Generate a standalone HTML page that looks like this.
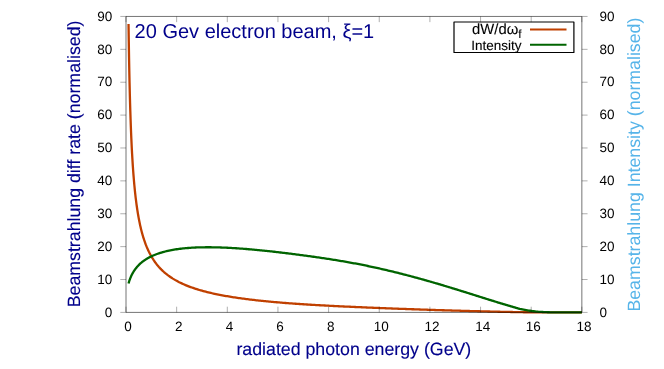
<!DOCTYPE html>
<html lang="en">
<head>
<meta charset="utf-8">
<title>Beamstrahlung spectrum, 20 GeV electron beam</title>
<style>
html,body{margin:0;padding:0;background:#fff;}
body{width:664px;height:369px;overflow:hidden;font-family:"Liberation Sans",sans-serif;}
svg{display:block;will-change:transform;}
text{font-family:"Liberation Sans",sans-serif;text-rendering:geometricPrecision;}
</style>
</head>
<body>
<svg width="664" height="369" viewBox="0 0 664 369">
<rect width="664" height="369" fill="#ffffff"/>
<g fill="none" stroke-width="2.3" stroke-linejoin="round" stroke-linecap="butt">
<path stroke="#c04000" d="M128.53,23.92 L128.79,41.89 L129.04,57.34 L129.29,70.80 L129.55,82.65 L129.80,93.18 L130.05,102.61 L130.31,111.12 L130.56,118.83 L130.81,125.87 L131.06,132.33 L131.32,138.27 L131.57,143.76 L131.82,148.86 L132.08,153.60 L132.33,158.03 L132.58,162.18 L132.84,166.07 L133.09,169.73 L133.34,173.18 L133.60,176.44 L133.85,179.53 L134.10,182.46 L134.36,185.24 L134.61,187.89 L134.86,190.41 L135.12,192.82 L135.37,195.12 L135.62,197.31 L135.88,199.42 L136.13,201.44 L136.38,203.38 L136.64,205.24 L136.89,207.03 L137.14,208.76 L137.40,210.42 L137.65,212.02 L137.90,213.57 L138.16,215.06 L138.41,216.50 L138.66,217.90 L138.92,219.25 L139.17,220.56 L139.42,221.82 L139.68,223.05 L139.93,224.24 L140.18,225.40 L140.44,226.53 L140.69,227.62 L140.94,228.68 L141.19,229.71 L141.45,230.72 L141.70,231.70 L141.95,232.65 L142.21,233.58 L142.46,234.48 L142.71,235.37 L142.97,236.23 L143.22,237.07 L143.47,237.89 L143.73,238.69 L143.98,239.47 L144.23,240.24 L144.49,240.99 L144.74,241.72 L144.99,242.43 L145.25,243.13 L145.50,243.82 L145.75,244.49 L146.01,245.14 L146.26,245.79 L146.51,246.42 L146.77,247.03 L147.02,247.64 L147.27,248.23 L147.53,248.81 L147.78,249.38 L148.03,249.94 L148.29,250.49 L148.54,251.03 L148.79,251.56 L149.05,252.08 L149.30,252.59 L149.55,253.09 L149.81,253.58 L150.06,254.07 L150.31,254.54 L150.57,255.01 L150.82,255.47 L151.07,255.92 L151.32,256.36 L152.59,258.48 L153.86,260.43 L155.12,262.24 L156.39,263.93 L157.66,265.50 L158.92,266.97 L160.19,268.35 L161.46,269.64 L162.72,270.86 L163.99,272.02 L165.25,273.11 L166.52,274.14 L167.79,275.13 L169.05,276.06 L170.32,276.95 L171.59,277.80 L172.85,278.61 L174.12,279.38 L175.38,280.12 L176.65,280.83 L177.92,281.51 L179.18,282.17 L180.45,282.79 L181.72,283.40 L182.98,283.98 L184.25,284.54 L185.51,285.08 L186.78,285.60 L188.05,286.11 L189.31,286.60 L190.58,287.07 L191.85,287.52 L193.11,287.96 L194.38,288.39 L195.64,288.81 L196.91,289.21 L198.18,289.60 L199.44,289.98 L200.71,290.35 L201.98,290.71 L203.24,291.05 L204.51,291.39 L205.77,291.72 L207.04,292.04 L208.31,292.36 L209.57,292.66 L210.84,292.96 L212.11,293.25 L213.37,293.53 L214.64,293.81 L215.90,294.08 L217.17,294.34 L218.44,294.60 L219.70,294.85 L220.97,295.09 L222.24,295.33 L223.50,295.57 L224.77,295.80 L226.03,296.02 L227.30,296.24 L228.57,296.46 L229.83,296.67 L231.10,296.87 L232.37,297.07 L233.63,297.27 L234.90,297.47 L236.16,297.66 L237.43,297.84 L238.70,298.03 L239.96,298.21 L241.23,298.38 L242.50,298.56 L243.76,298.73 L245.03,298.89 L246.29,299.06 L247.56,299.22 L248.83,299.37 L250.09,299.53 L251.36,299.68 L252.63,299.83 L253.89,299.98 L255.16,300.12 L256.42,300.27 L257.69,300.41 L258.96,300.54 L260.22,300.68 L261.49,300.81 L262.76,300.94 L264.02,301.07 L265.29,301.20 L266.55,301.32 L267.82,301.45 L269.09,301.57 L270.35,301.69 L271.62,301.80 L272.89,301.92 L274.15,302.03 L275.42,302.15 L276.68,302.26 L277.95,302.37 L279.22,302.47 L280.48,302.58 L281.75,302.68 L283.02,302.79 L284.28,302.89 L285.55,302.99 L286.81,303.09 L288.08,303.18 L289.35,303.28 L290.61,303.37 L291.88,303.47 L293.15,303.56 L294.41,303.65 L295.68,303.74 L296.94,303.83 L298.21,303.91 L299.48,304.00 L300.74,304.08 L302.01,304.17 L303.28,304.25 L304.54,304.33 L305.81,304.41 L307.07,304.49 L308.34,304.57 L309.61,304.65 L310.87,304.73 L312.14,304.80 L313.41,304.88 L314.67,304.95 L315.94,305.03 L317.20,305.10 L318.47,305.17 L319.74,305.24 L321.00,305.31 L322.27,305.38 L323.54,305.45 L324.80,305.52 L326.07,305.59 L327.33,305.66 L328.60,305.72 L329.87,305.79 L331.13,305.85 L332.40,305.92 L333.67,305.98 L334.93,306.05 L336.20,306.11 L337.46,306.17 L338.73,306.23 L340.00,306.29 L341.26,306.36 L342.53,306.42 L343.80,306.48 L345.06,306.53 L346.33,306.59 L347.59,306.65 L348.86,306.71 L350.13,306.77 L351.39,306.83 L352.66,306.88 L353.93,306.94 L355.19,307.00 L356.46,307.05 L357.72,307.11 L358.99,307.16 L360.26,307.22 L361.52,307.27 L362.79,307.33 L364.06,307.38 L365.32,307.43 L366.59,307.49 L367.85,307.54 L369.12,307.59 L370.39,307.65 L371.65,307.70 L372.92,307.75 L374.19,307.80 L375.45,307.85 L376.72,307.90 L377.98,307.96 L379.25,308.01 L380.52,308.06 L381.78,308.11 L383.05,308.16 L384.32,308.21 L385.58,308.25 L386.85,308.30 L388.11,308.35 L389.38,308.40 L390.65,308.45 L391.91,308.50 L393.18,308.54 L394.45,308.59 L395.71,308.64 L396.98,308.69 L398.24,308.73 L399.51,308.78 L400.78,308.83 L402.04,308.87 L403.31,308.92 L404.58,308.96 L405.84,309.01 L407.11,309.05 L408.37,309.10 L409.64,309.14 L410.91,309.19 L412.17,309.23 L413.44,309.27 L414.71,309.32 L415.97,309.36 L417.24,309.41 L418.50,309.45 L419.77,309.49 L421.04,309.53 L422.30,309.58 L423.57,309.62 L424.84,309.66 L426.10,309.70 L427.37,309.74 L428.63,309.78 L429.90,309.83 L431.17,309.87 L432.43,309.91 L433.70,309.95 L434.97,309.99 L436.23,310.03 L437.50,310.07 L438.76,310.11 L440.03,310.15 L441.30,310.19 L442.56,310.23 L443.83,310.26 L445.10,310.30 L446.36,310.34 L447.63,310.38 L448.89,310.42 L450.16,310.46 L451.43,310.49 L452.69,310.53 L453.96,310.57 L455.23,310.61 L456.49,310.64 L457.76,310.68 L459.02,310.71 L460.29,310.75 L461.56,310.79 L462.82,310.82 L464.09,310.86 L465.36,310.89 L466.62,310.93 L467.89,310.96 L469.15,311.00 L470.42,311.03 L471.69,311.07 L472.95,311.10 L474.22,311.13 L475.49,311.17 L476.75,311.20 L478.02,311.23 L479.28,311.27 L480.55,311.30 L481.82,311.33 L483.08,311.36 L484.35,311.40 L485.62,311.43 L486.88,311.46 L488.15,311.49 L489.41,311.52 L490.68,311.55 L491.95,311.58 L493.21,311.61 L494.48,311.64 L495.75,311.67 L497.01,311.70 L498.28,311.73 L499.54,311.76 L500.81,311.79 L502.08,311.81 L503.34,311.84 L504.61,311.87 L505.88,311.89 L507.14,311.92 L508.41,311.95 L509.67,311.97 L510.94,312.00 L512.21,312.02 L513.47,312.05 L514.74,312.08 L516.01,312.10 L517.27,312.13 L518.54,312.15 L519.80,312.17 L521.07,312.19 L522.34,312.21 L523.60,312.23 L524.87,312.24 L526.14,312.26 L527.40,312.27 L528.67,312.28 L529.93,312.30 L531.20,312.31 L532.47,312.32 L533.73,312.33 L535.00,312.34 L536.27,312.35 L537.53,312.36 L538.80,312.36 L540.06,312.37 L541.33,312.37 L542.60,312.38 L543.86,312.38 L545.13,312.38 L546.40,312.39 L547.66,312.39 L548.93,312.39 L550.19,312.39 L551.46,312.39 L552.73,312.40 L553.99,312.40 L555.26,312.40 L556.53,312.40 L557.79,312.40 L559.06,312.40 L560.32,312.40 L561.59,312.40 L562.86,312.40 L564.12,312.40 L565.39,312.40 L566.66,312.40 L567.92,312.40 L569.19,312.40 L570.45,312.40 L571.72,312.40 L572.99,312.40 L574.25,312.40 L575.52,312.40 L576.79,312.40 L578.05,312.40 L579.32,312.40 L580.58,312.40 L581.85,312.40"/>
<path stroke="#006400" d="M128.53,283.55 L128.79,282.64 L129.04,281.79 L129.29,280.99 L129.55,280.24 L129.80,279.52 L130.05,278.83 L130.31,278.18 L130.56,277.56 L130.81,276.96 L131.06,276.39 L131.32,275.83 L131.57,275.30 L131.82,274.79 L132.08,274.29 L132.33,273.81 L132.58,273.34 L132.84,272.89 L133.09,272.45 L133.34,272.03 L133.60,271.61 L133.85,271.21 L134.10,270.82 L134.36,270.44 L134.61,270.07 L134.86,269.70 L135.12,269.35 L135.37,269.00 L135.62,268.67 L135.88,268.34 L136.13,268.02 L136.38,267.70 L136.64,267.39 L136.89,267.09 L137.14,266.80 L137.40,266.51 L137.65,266.23 L137.90,265.95 L138.16,265.68 L138.41,265.41 L138.66,265.15 L138.92,264.89 L139.17,264.64 L139.42,264.39 L139.68,264.15 L139.93,263.91 L140.18,263.68 L140.44,263.45 L140.69,263.23 L140.94,263.01 L141.19,262.79 L141.45,262.57 L141.70,262.36 L141.95,262.16 L142.21,261.95 L142.46,261.75 L142.71,261.56 L142.97,261.36 L143.22,261.17 L143.47,260.99 L143.73,260.80 L143.98,260.62 L144.23,260.44 L144.49,260.27 L144.74,260.09 L144.99,259.92 L145.25,259.76 L145.50,259.59 L145.75,259.43 L146.01,259.27 L146.26,259.11 L146.51,258.95 L146.77,258.80 L147.02,258.65 L147.27,258.50 L147.53,258.35 L147.78,258.21 L148.03,258.06 L148.29,257.92 L148.54,257.78 L148.79,257.64 L149.05,257.51 L149.30,257.37 L149.55,257.24 L149.81,257.11 L150.06,256.98 L150.31,256.86 L150.57,256.73 L150.82,256.61 L151.07,256.48 L151.32,256.36 L152.59,255.78 L153.86,255.23 L155.12,254.72 L156.39,254.23 L157.66,253.77 L158.92,253.34 L160.19,252.93 L161.46,252.54 L162.72,252.17 L163.99,251.83 L165.25,251.50 L166.52,251.19 L167.79,250.90 L169.05,250.62 L170.32,250.36 L171.59,250.12 L172.85,249.88 L174.12,249.66 L175.38,249.46 L176.65,249.26 L177.92,249.08 L179.18,248.91 L180.45,248.75 L181.72,248.60 L182.98,248.46 L184.25,248.33 L185.51,248.20 L186.78,248.09 L188.05,247.99 L189.31,247.89 L190.58,247.80 L191.85,247.72 L193.11,247.65 L194.38,247.58 L195.64,247.52 L196.91,247.47 L198.18,247.42 L199.44,247.38 L200.71,247.35 L201.98,247.32 L203.24,247.29 L204.51,247.28 L205.77,247.27 L207.04,247.26 L208.31,247.26 L209.57,247.26 L210.84,247.27 L212.11,247.28 L213.37,247.30 L214.64,247.32 L215.90,247.35 L217.17,247.38 L218.44,247.41 L219.70,247.45 L220.97,247.50 L222.24,247.54 L223.50,247.59 L224.77,247.64 L226.03,247.70 L227.30,247.76 L228.57,247.83 L229.83,247.89 L231.10,247.96 L232.37,248.03 L233.63,248.11 L234.90,248.19 L236.16,248.27 L237.43,248.36 L238.70,248.44 L239.96,248.53 L241.23,248.62 L242.50,248.72 L243.76,248.82 L245.03,248.92 L246.29,249.02 L247.56,249.12 L248.83,249.23 L250.09,249.34 L251.36,249.45 L252.63,249.56 L253.89,249.68 L255.16,249.79 L256.42,249.91 L257.69,250.03 L258.96,250.15 L260.22,250.28 L261.49,250.41 L262.76,250.53 L264.02,250.66 L265.29,250.79 L266.55,250.93 L267.82,251.06 L269.09,251.20 L270.35,251.34 L271.62,251.47 L272.89,251.62 L274.15,251.76 L275.42,251.90 L276.68,252.05 L277.95,252.19 L279.22,252.34 L280.48,252.49 L281.75,252.64 L283.02,252.79 L284.28,252.94 L285.55,253.09 L286.81,253.25 L288.08,253.41 L289.35,253.56 L290.61,253.72 L291.88,253.88 L293.15,254.04 L294.41,254.20 L295.68,254.36 L296.94,254.53 L298.21,254.69 L299.48,254.86 L300.74,255.02 L302.01,255.19 L303.28,255.36 L304.54,255.53 L305.81,255.70 L307.07,255.87 L308.34,256.04 L309.61,256.22 L310.87,256.39 L312.14,256.57 L313.41,256.75 L314.67,256.92 L315.94,257.10 L317.20,257.29 L318.47,257.47 L319.74,257.65 L321.00,257.84 L322.27,258.02 L323.54,258.21 L324.80,258.40 L326.07,258.59 L327.33,258.79 L328.60,258.98 L329.87,259.18 L331.13,259.37 L332.40,259.57 L333.67,259.77 L334.93,259.98 L336.20,260.18 L337.46,260.39 L338.73,260.60 L340.00,260.81 L341.26,261.02 L342.53,261.23 L343.80,261.45 L345.06,261.67 L346.33,261.89 L347.59,262.11 L348.86,262.34 L350.13,262.56 L351.39,262.79 L352.66,263.02 L353.93,263.26 L355.19,263.49 L356.46,263.73 L357.72,263.97 L358.99,264.22 L360.26,264.46 L361.52,264.71 L362.79,264.97 L364.06,265.22 L365.32,265.48 L366.59,265.74 L367.85,266.00 L369.12,266.26 L370.39,266.53 L371.65,266.80 L372.92,267.07 L374.19,267.34 L375.45,267.62 L376.72,267.90 L377.98,268.18 L379.25,268.46 L380.52,268.75 L381.78,269.04 L383.05,269.33 L384.32,269.62 L385.58,269.91 L386.85,270.21 L388.11,270.51 L389.38,270.81 L390.65,271.11 L391.91,271.42 L393.18,271.73 L394.45,272.04 L395.71,272.35 L396.98,272.66 L398.24,272.98 L399.51,273.30 L400.78,273.62 L402.04,273.94 L403.31,274.27 L404.58,274.59 L405.84,274.92 L407.11,275.25 L408.37,275.58 L409.64,275.92 L410.91,276.25 L412.17,276.59 L413.44,276.93 L414.71,277.27 L415.97,277.62 L417.24,277.96 L418.50,278.31 L419.77,278.66 L421.04,279.01 L422.30,279.36 L423.57,279.72 L424.84,280.07 L426.10,280.43 L427.37,280.79 L428.63,281.15 L429.90,281.51 L431.17,281.88 L432.43,282.24 L433.70,282.61 L434.97,282.98 L436.23,283.35 L437.50,283.72 L438.76,284.09 L440.03,284.47 L441.30,284.84 L442.56,285.22 L443.83,285.60 L445.10,285.98 L446.36,286.36 L447.63,286.74 L448.89,287.13 L450.16,287.51 L451.43,287.90 L452.69,288.29 L453.96,288.68 L455.23,289.07 L456.49,289.46 L457.76,289.85 L459.02,290.24 L460.29,290.63 L461.56,291.03 L462.82,291.42 L464.09,291.82 L465.36,292.21 L466.62,292.61 L467.89,293.01 L469.15,293.40 L470.42,293.80 L471.69,294.20 L472.95,294.60 L474.22,295.00 L475.49,295.40 L476.75,295.80 L478.02,296.20 L479.28,296.60 L480.55,297.00 L481.82,297.40 L483.08,297.80 L484.35,298.19 L485.62,298.59 L486.88,298.99 L488.15,299.39 L489.41,299.78 L490.68,300.18 L491.95,300.57 L493.21,300.97 L494.48,301.36 L495.75,301.75 L497.01,302.14 L498.28,302.53 L499.54,302.92 L500.81,303.30 L502.08,303.68 L503.34,304.06 L504.61,304.43 L505.88,304.81 L507.14,305.18 L508.41,305.55 L509.67,305.92 L510.94,306.29 L512.21,306.68 L513.47,307.07 L514.74,307.46 L516.01,307.84 L517.27,308.20 L518.54,308.54 L519.80,308.86 L521.07,309.14 L522.34,309.41 L523.60,309.67 L524.87,309.92 L526.14,310.15 L527.40,310.37 L528.67,310.57 L529.93,310.76 L531.20,310.93 L532.47,311.10 L533.73,311.26 L535.00,311.41 L536.27,311.55 L537.53,311.68 L538.80,311.79 L540.06,311.87 L541.33,311.95 L542.60,312.02 L543.86,312.08 L545.13,312.14 L546.40,312.19 L547.66,312.23 L548.93,312.26 L550.19,312.29 L551.46,312.31 L552.73,312.34 L553.99,312.36 L555.26,312.37 L556.53,312.39 L557.79,312.40 L559.06,312.40 L560.32,312.40 L561.59,312.40 L562.86,312.40 L564.12,312.40 L565.39,312.40 L566.66,312.40 L567.92,312.40 L569.19,312.40 L570.45,312.40 L571.72,312.40 L572.99,312.40 L574.25,312.40 L575.52,312.40 L576.79,312.40 L578.05,312.40 L579.32,312.40 L580.58,312.40 L581.85,312.40"/>
</g>
<g fill="none" stroke="#000"><g stroke-width="0.55"><path d="M126.00,16.45 H581.85 V312.40 H126.00 Z"/></g><path stroke-width="0.32" d="M126.00,312.40 h-5.70 M581.85,312.40 h5.70 M126.00,279.52 h-5.70 M581.85,279.52 h5.70 M126.00,246.63 h-5.70 M581.85,246.63 h5.70 M126.00,213.75 h-5.70 M581.85,213.75 h5.70 M126.00,180.87 h-5.70 M581.85,180.87 h5.70 M126.00,147.98 h-5.70 M581.85,147.98 h5.70 M126.00,115.10 h-5.70 M581.85,115.10 h5.70 M126.00,82.22 h-5.70 M581.85,82.22 h5.70 M126.00,49.33 h-5.70 M581.85,49.33 h5.70 M126.00,16.45 h-5.70 M581.85,16.45 h5.70 M126.00,312.40 v-5.70 M126.00,16.45 v5.70 M176.65,312.40 v-5.70 M176.65,16.45 v5.70 M227.30,312.40 v-5.70 M227.30,16.45 v5.70 M277.95,312.40 v-5.70 M277.95,16.45 v5.70 M328.60,312.40 v-5.70 M328.60,16.45 v5.70 M379.25,312.40 v-5.70 M379.25,16.45 v5.70 M429.90,312.40 v-5.70 M429.90,16.45 v5.70 M480.55,312.40 v-5.70 M480.55,16.45 v5.70 M531.20,312.40 v-5.70 M531.20,16.45 v5.70 M581.85,312.40 v-5.70 M581.85,16.45 v5.70"/></g>
<rect x="454" y="22" width="119.9" height="30.5" fill="none" stroke="#000" stroke-width="1.2" stroke-linejoin="round"/>
<g font-size="13.5px" fill="#000" stroke="#000" stroke-width="0.1">
<text y="34.1" x="472.1" font-size="14.8px">dW/dω</text>
<text y="37.6" x="518.2" font-size="11.8px">f</text>
<text y="49.6" x="471.2">Intensity</text>
</g>
<g fill="none" stroke-width="2">
<path stroke="#c04000" d="M530,29.4 H566.5"/>
<path stroke="#006400" d="M530,44.8 H566.5"/>
</g>
<g font-size="13.5px" fill="#000" text-anchor="end">
<text x="112.3" y="316.65">0</text>
<text x="112.3" y="283.77">10</text>
<text x="112.3" y="250.88">20</text>
<text x="112.3" y="218.00">30</text>
<text x="112.3" y="185.12">40</text>
<text x="112.3" y="152.23">50</text>
<text x="112.3" y="119.35">60</text>
<text x="112.3" y="86.47">70</text>
<text x="112.3" y="53.58">80</text>
<text x="112.3" y="20.70">90</text>
</g>
<g font-size="13.5px" fill="#000" text-anchor="start">
<text x="599.5" y="316.65">0</text>
<text x="599.5" y="283.77">10</text>
<text x="599.5" y="250.88">20</text>
<text x="599.5" y="218.00">30</text>
<text x="599.5" y="185.12">40</text>
<text x="599.5" y="152.23">50</text>
<text x="599.5" y="119.35">60</text>
<text x="599.5" y="86.47">70</text>
<text x="599.5" y="53.58">80</text>
<text x="599.5" y="20.70">90</text>
</g>
<g font-size="13.5px" fill="#000" text-anchor="middle">
<text x="128.1" y="330.75">0</text>
<text x="178.75" y="330.75">2</text>
<text x="229.4" y="330.75">4</text>
<text x="280.05" y="330.75">6</text>
<text x="330.7" y="330.75">8</text>
<text x="381.35" y="330.75">10</text>
<text x="432.0" y="330.75">12</text>
<text x="482.65" y="330.75">14</text>
<text x="533.3" y="330.75">16</text>
<text x="583.95" y="330.75">18</text>
</g>
<text x="134.6" y="37.8" font-size="20px" fill="#00008b">20 Gev electron beam, ξ=1</text>
<g font-size="17.75px" stroke-width="0.12">
<text fill="#00008b" stroke="#00008b" text-anchor="middle" x="353.85" y="354.8">radiated photon energy (GeV)</text>
<text fill="#00008b" stroke="#00008b" text-anchor="middle" transform="translate(80.4,163.95) rotate(-90)">Beamstrahlung diff rate (normalised)</text>
<text fill="#56b4e9" text-anchor="middle" transform="translate(639.65,164.6) rotate(-90)">Beamstrahlung Intensity (normalised)</text>
</g>
</svg>
</body>
</html>
